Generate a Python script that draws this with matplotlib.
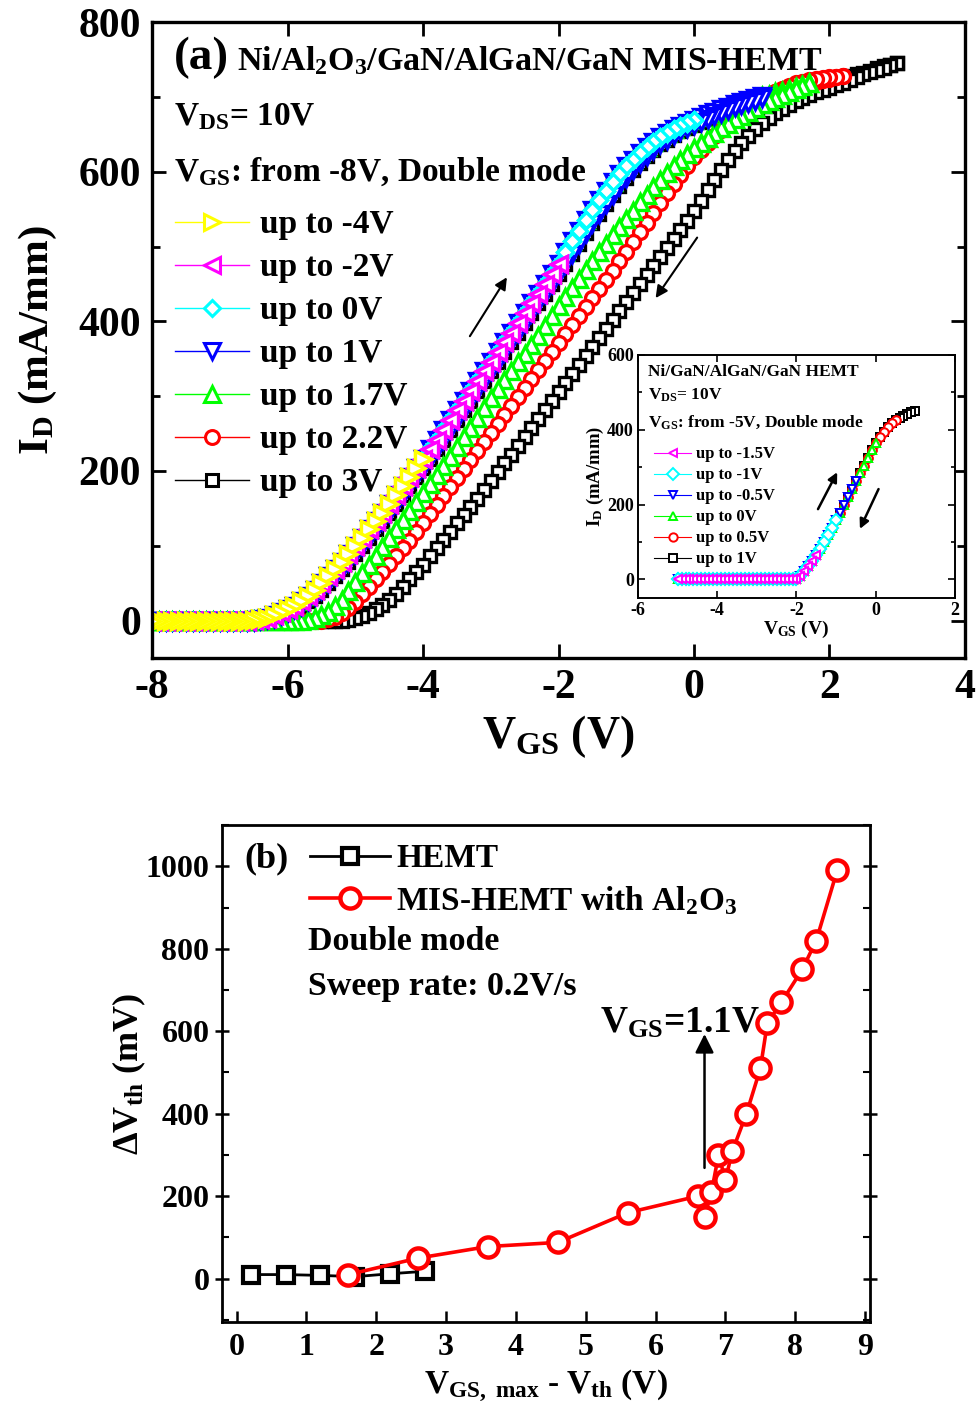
import numpy as np
import matplotlib
matplotlib.use("Agg")
import matplotlib.pyplot as plt
from matplotlib.lines import Line2D
from matplotlib.ticker import MultipleLocator

plt.rcParams["font.family"] = ["Liberation Serif", "DejaVu Serif"]
plt.rcParams["font.weight"] = "bold"
plt.rcParams["axes.labelweight"] = "bold"
plt.rcParams["axes.unicode_minus"] = False
plt.rcParams["mathtext.fontset"] = "custom"
plt.rcParams["mathtext.rm"] = "Liberation Serif:bold"
plt.rcParams["mathtext.bf"] = "Liberation Serif:bold"
plt.rcParams["mathtext.it"] = "Liberation Serif:bold:italic"

# ---- panel (a): double-mode transfer sweeps, VGS grid from -8 V in 0.1 V steps
VGS_START = -8.0
VGS_STEP = 0.1

# forward sweep (common to all runs), -8.0 .. 3.0 V
FWD_ID = [0.0] * 15 + [
    1, 2, 4, 7, 11, 15, 20, 26, 33, 41,
    50, 59, 69, 79, 89, 100, 111, 122, 133, 144,
    156, 168, 180, 192, 204, 216, 229, 242, 255, 268,
    281, 294, 307, 320, 333, 346, 359, 372, 385, 398,
    411, 424, 437, 450, 463, 477, 492, 507, 521, 535,
    549, 562, 574, 586, 597, 607, 616, 625, 633, 640,
    646, 652, 657, 661, 665, 669, 673, 677, 680, 684,
    687, 690, 693, 696, 698, 701, 703, 706, 708, 711,
    713, 716, 718, 720, 722, 724, 726, 728, 730, 732,
    734, 737, 739, 741, 743, 745]

# slightly right-shifted curve (blue return sweep, black forward sweep)
LATE_ID = [0.0] * 16 + [
    1, 2, 4, 7, 11, 15, 20, 26, 33, 41,
    50, 59, 69, 79, 89, 100, 111, 122, 133, 144,
    156, 168, 180, 192, 204, 216, 229, 242, 255, 268,
    281, 294, 307, 320, 333, 346, 359, 372, 385, 398,
    411, 424, 437, 450, 463, 476, 490, 504, 518, 531,
    544, 557, 569, 581, 592, 602, 612, 621, 629, 637,
    643, 649, 654, 659, 663, 667, 671, 675, 679, 683,
    686, 689, 692, 695, 698, 701, 703, 706, 708, 711,
    713, 716, 718, 720, 722, 724, 726, 728, 730, 732,
    735, 738, 741, 743, 745]

# return sweeps, listed from -8.0 V upwards
GREEN_BWD = [0.0] * 23 + [
    1, 3, 7, 12, 19, 28, 39, 51, 63, 75,
    87, 99, 111, 123, 135, 147, 159, 171, 183, 195,
    207, 219, 232, 245, 258, 271, 284, 297, 309, 321,
    333, 345, 357, 369, 381, 394, 407, 420, 432, 444,
    456, 468, 480, 492, 504, 515, 526, 537, 548, 559,
    569, 579, 589, 598, 607, 615, 623, 631, 638, 645,
    652, 658, 664, 670, 675, 680, 685, 690, 694, 698,
    702, 706, 710, 714, 718]

RED_BWD = [0.0] * 26 + [
    2, 5, 10, 17, 25, 35, 45, 55, 65, 76,
    87, 97, 107, 119, 131, 143, 155, 167, 179, 191,
    203, 215, 227, 239, 251, 263, 275, 287, 299, 311,
    323, 335, 347, 359, 371, 383, 395, 407, 419, 431,
    443, 455, 467, 480, 493, 506, 519, 532, 545, 558,
    571, 584, 596, 608, 619, 629, 639, 648, 656, 664,
    671, 678, 685, 691, 697, 702, 707, 711, 715, 718,
    720, 722, 724, 725, 726, 727, 728]

BLACK_BWD = [0.0] * 29 + [
    1, 3, 6, 10, 15, 21, 28, 36, 45, 55,
    65, 75, 86, 97, 108, 119, 130, 141, 152, 163,
    174, 186, 198, 210, 222, 234, 246, 258, 270, 282,
    294, 306, 318, 330, 342, 354, 366, 378, 390, 402,
    414, 426, 438, 450, 462, 474, 486, 498, 510, 522,
    534, 547, 561, 575, 589, 602, 615, 627, 638, 648,
    657, 665, 672, 678, 684, 689, 694, 698, 702, 706,
    709, 712, 716, 719, 723, 727, 730, 733, 736, 739,
    742, 745]

A_LABELS = ["up to -4V", "up to -2V", "up to 0V", "up to 1V",
            "up to 1.7V", "up to 2.2V", "up to 3V"]
A_VMAX = [-4.0, -2.0, 0.0, 1.0, 1.7, 2.2, 3.0]
A_FWD = [FWD_ID, FWD_ID, FWD_ID, FWD_ID, FWD_ID, FWD_ID, LATE_ID]
A_BWD = [FWD_ID, FWD_ID, FWD_ID, LATE_ID, GREEN_BWD, RED_BWD, BLACK_BWD]

# ---- inset: Ni/GaN HEMT, grid from -5 V in 0.1 V steps
IN_START = -5.0
INSET_ID = [0.0] * 31 + [
    10, 22, 35, 50, 65, 82, 100, 118, 138, 158,
    178, 199, 220, 241, 262, 283, 304, 325, 345, 365,
    380, 395, 407, 417, 425, 432, 438, 443, 447, 450]
IN_LABELS = ["up to -1.5V", "up to -1V", "up to -0.5V",
             "up to 0V", "up to 0.5V", "up to 1V"]
IN_VMAX = [-1.5, -1.0, -0.5, 0.0, 0.5, 1.0]

# ---- panel (b)
HEMT_X = [0.2, 0.7, 1.2, 1.7, 2.2, 2.7]
HEMT_DV = [10, 10, 8, 5, 12, 18]
MIS_X = [1.6, 2.6, 3.6, 4.6, 5.6, 6.6, 6.7, 6.8, 6.9, 7.0, 7.1,
         7.3, 7.5, 7.6, 7.8, 8.1, 8.3, 8.6]
MIS_DV = [10, 50, 78, 88, 160, 200, 150, 210, 300, 240, 310,
          400, 510, 620, 670, 750, 820, 990]


def sweep(fwd, bwd, start, vmax):
    n = int(round((vmax - start) / VGS_STEP)) + 1
    v = start + VGS_STEP * np.arange(n)
    x = np.concatenate([v, v[::-1]])
    y = np.concatenate([np.asarray(fwd[:n], float), np.asarray(bwd[:n], float)[::-1]])
    return x, y


A_COLORS = ["#ffff00", "#ff00ff", "#00ffff", "#0000ff", "#00ff00", "#ff0000", "black"]
A_MARKERS = [">", "<", "D", "v", "^", "o", "s"]
A_MS = [11, 11, 8.5, 11, 11, 10, 9]

fig = plt.figure(figsize=(9.77, 14.13), dpi=100)

# ================= panel (a)
axa = fig.add_axes([0.1556, 0.5343, 0.8321, 0.4501])
for i in reversed(range(len(A_LABELS))):
    x, y = sweep(A_FWD[i], A_BWD[i], VGS_START, A_VMAX[i])
    axa.plot(x, y, color=A_COLORS[i], marker=A_MARKERS[i], ms=A_MS[i],
             mfc="white", mec=A_COLORS[i], mew=2.4, lw=1)

axa.set_xlim(-8, 4)
axa.set_ylim(-50, 800)
axa.xaxis.set_major_locator(MultipleLocator(2))
axa.yaxis.set_major_locator(MultipleLocator(200))
axa.yaxis.set_minor_locator(MultipleLocator(100))
axa.tick_params(which="both", direction="in", top=True, right=True,
                width=2, labelsize=30, pad=8)
axa.tick_params(which="major", length=10)
axa.tick_params(which="minor", length=6)
for s in axa.spines.values():
    s.set_linewidth(2.4)
axa.set_xlabel(r"V$_{\rm GS}$ (V)", fontsize=33, labelpad=4)
axa.set_ylabel(r"I$_{\rm D}$ (mA/mm)", fontsize=31, labelpad=14)

axa.text(-7.68, 752, "(a)", fontsize=34, va="center", ha="left")
axa.text(-6.74, 748, r"Ni/Al$_{\rm 2}$O$_{\rm 3}$/GaN/AlGaN/GaN MIS-HEMT",
         fontsize=24.5, va="center", ha="left")
axa.text(-7.68, 674, r"V$_{\rm DS}$= 10V", fontsize=24, va="center", ha="left")
axa.text(-7.68, 600, r"V$_{\rm GS}$: from -8V, Double mode", fontsize=24,
         va="center", ha="left")

handles = [Line2D([], [], color=A_COLORS[i], marker=A_MARKERS[i], ms=A_MS[i],
                  mfc="white", mec=A_COLORS[i], mew=2.2, lw=1)
           for i in range(len(A_LABELS))]
axa.legend(handles, A_LABELS, loc="upper left", bbox_to_anchor=(0.0, 0.742),
           frameon=False, fontsize=24, handlelength=2.2, handletextpad=0.35,
           labelspacing=0.36, borderaxespad=0.3)

arrow = dict(arrowstyle="-|>", lw=1.5, color="black", mutation_scale=18)
axa.annotate("", xy=(-2.74, 462), xytext=(-3.33, 377), arrowprops=arrow)
axa.annotate("", xy=(-0.59, 428), xytext=(0.07, 515), arrowprops=arrow)

# ================= inset
axi = fig.add_axes([0.6530, 0.5768, 0.3245, 0.1720])
axi.set_facecolor("white")
IN_COLORS = A_COLORS[1:]
IN_MARKERS = A_MARKERS[1:]
for i in reversed(range(len(IN_LABELS))):
    x, y = sweep(INSET_ID, INSET_ID, IN_START, IN_VMAX[i])
    axi.plot(x, y, color=IN_COLORS[i], marker=IN_MARKERS[i], ms=6,
             mfc="white", mec=IN_COLORS[i], mew=1.4, lw=0.8)
axi.set_xlim(-6, 2)
axi.set_ylim(-50, 600)
axi.xaxis.set_major_locator(MultipleLocator(2))
axi.yaxis.set_major_locator(MultipleLocator(200))
axi.yaxis.set_minor_locator(MultipleLocator(100))
axi.tick_params(which="both", direction="in", right=True, top=True,
                width=1.2, labelsize=13, pad=3)
axi.tick_params(which="major", length=5)
axi.tick_params(which="minor", length=3)
for s in axi.spines.values():
    s.set_linewidth(1.4)
axi.set_xlabel(r"V$_{\rm GS}$ (V)", fontsize=14, labelpad=0)
axi.set_ylabel(r"I$_{\rm D}$ (mA/mm)", fontsize=13.5, labelpad=1)
axi.text(-5.75, 555, "Ni/GaN/AlGaN/GaN HEMT", fontsize=12.5, va="center")
axi.text(-5.75, 492, r"V$_{\rm DS}$= 10V", fontsize=12.5, va="center")
axi.text(-5.75, 420, r"V$_{\rm GS}$: from -5V, Double mode", fontsize=12.5,
         va="center")
in_handles = [Line2D([], [], color=IN_COLORS[i], marker=IN_MARKERS[i], ms=6,
                     mfc="white", mec=IN_COLORS[i], mew=1.4, lw=0.8)
              for i in range(len(IN_LABELS))]
axi.legend(in_handles, IN_LABELS, loc="upper left", bbox_to_anchor=(0.02, 0.665),
           frameon=False, fontsize=12, handlelength=2.2, handletextpad=0.3,
           labelspacing=0.3, borderaxespad=0.2)
arrow_s = dict(arrowstyle="-|>", lw=1.8, color="black", mutation_scale=14)
axi.annotate("", xy=(-0.94, 293), xytext=(-1.49, 181), arrowprops=arrow_s)
axi.annotate("", xy=(-0.43, 128), xytext=(0.1, 248), arrowprops=arrow_s)

# ================= panel (b)
axb = fig.add_axes([0.2272, 0.0644, 0.6633, 0.3517])
axb.plot(HEMT_X, HEMT_DV, color="black", marker="s", ms=12, mfc="white",
         mec="black", mew=3, lw=2, label="HEMT")
axb.plot(MIS_X, MIS_DV, color="red", marker="o", ms=14.5, mfc="white",
         mec="red", mew=3.2, lw=2.6, label=r"MIS-HEMT with Al$_{\rm 2}$O$_{\rm 3}$")
axb.set_xlim(-0.21, 9.07)
axb.set_ylim(-105, 1100)
axb.xaxis.set_major_locator(MultipleLocator(1))
axb.yaxis.set_major_locator(MultipleLocator(200))
axb.yaxis.set_minor_locator(MultipleLocator(100))
axb.tick_params(axis="x", which="major", direction="in", length=8, width=1.8,
                labelsize=23, pad=8)
axb.tick_params(axis="y", which="major", direction="inout", length=10, width=1.8,
                labelsize=23, pad=4, right=True)
axb.tick_params(axis="y", which="minor", direction="in", length=5, width=1.5,
                right=True)
for s in axb.spines.values():
    s.set_linewidth(2)
axb.set_xlabel(r"V$_{\rm GS,\ max}$ - V$_{\rm th}$ (V)", fontsize=24, labelpad=4)
axb.set_ylabel(r"ΔV$_{\rm th}$ (mV)", fontsize=26, labelpad=-2)
axb.text(0.11, 1019, "(b)", fontsize=26, va="center", ha="left")
axb.legend(loc="upper left", bbox_to_anchor=(0.115, 0.99), frameon=False,
           fontsize=24, handlelength=2.4, handletextpad=0.2, labelspacing=0.3,
           borderaxespad=0.0)
axb.text(1.02, 818, "Double mode", fontsize=24.5, va="center", ha="left")
axb.text(1.02, 709, "Sweep rate: 0.2V/s", fontsize=24.5, va="center", ha="left")
axb.text(5.2, 620, r"V$_{\rm GS}$=1.1V", fontsize=27, va="center", ha="left")
axb.annotate("", xy=(6.7, 600), xytext=(6.7, 262),
             arrowprops=dict(arrowstyle="-|>", lw=1.8, color="black",
                             mutation_scale=28))

fig.savefig("out.png", dpi=100)
